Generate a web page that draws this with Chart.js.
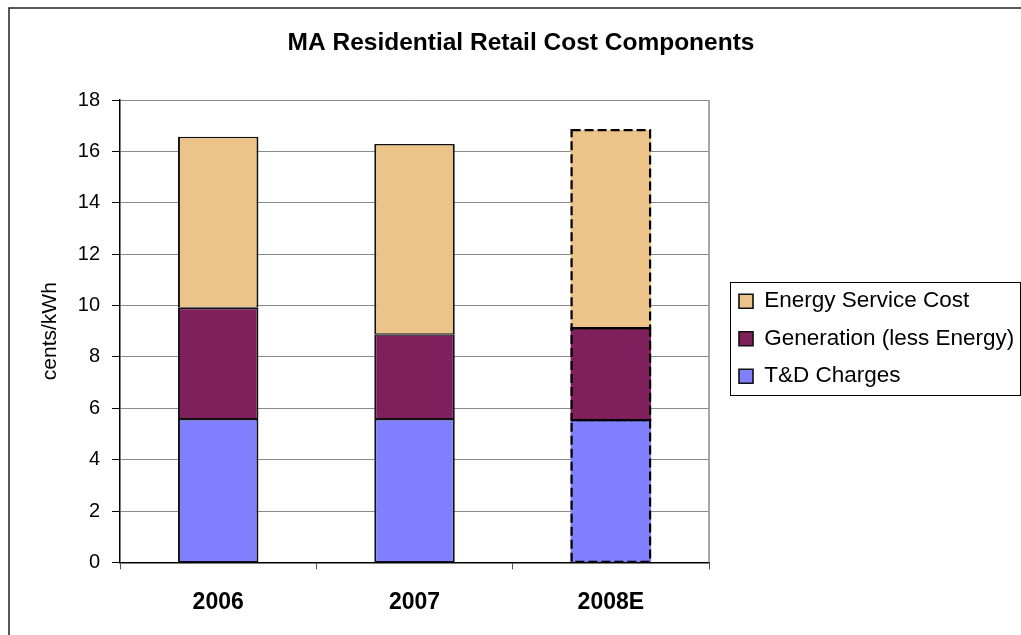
<!DOCTYPE html>
<html>
<head>
<meta charset="utf-8">
<title>MA Residential Retail Cost Components</title>
<script src="https://cdn.jsdelivr.net/npm/chart.js@4/dist/chart.umd.min.js"></script>
<style>
  html, body { margin: 0; padding: 0; background: #fff; }
  #wrap { width: 1021px; height: 635px; position: relative; }
</style>
</head>
<body>
<div id="wrap"><canvas id="chart" width="1021" height="635"></canvas></div>
<script>
// Retail cost components, cents per kWh
const years = ['2006', '2007', '2008E'];
const tdCharges = [5.58, 5.58, 5.54];
const generationLessEnergy = [4.33, 3.30, 3.58];
const energyServiceCost = [6.66, 7.41, 7.71];
const seriesNames = ['T&D Charges', 'Generation (less Energy)', 'Energy Service Cost'];
const yAxisMin = 0;
const yAxisMax = 18;
const yAxisStep = 2;
const estimatedYear = '2008E';   // estimate, drawn with a dashed outline

const FONT = "'Liberation Sans', Arial, Helvetica, sans-serif";
Chart.defaults.font.family = FONT;
Chart.defaults.color = '#000';

const PAD = { left: 21, right: 312, top: 0, bottom: 0 };

const estIdx = years.indexOf(estimatedYear);
const solidBorder = { top: 1.5, bottom: 1, left: 2, right: 2 };
const borderFor = (ctx) => (ctx.dataIndex === estIdx ? 0 : solidBorder);

// Outer frame of the chart object
const framePlugin = {
  id: 'frame',
  beforeDraw(chart) {
    const ctx = chart.ctx;
    ctx.save();
    ctx.strokeStyle = '#222';
    ctx.lineWidth = 1.5;
    ctx.beginPath();
    ctx.moveTo(9, chart.height + 5);
    ctx.lineTo(9, 8);
    ctx.lineTo(chart.width + 5, 8);
    ctx.stroke();
    ctx.restore();
  }
};

// Right edge of the plot area
const plotEdgePlugin = {
  id: 'plotEdge',
  afterDraw(chart) {
    const { ctx, chartArea } = chart;
    ctx.save();
    ctx.strokeStyle = '#8a8a8a';
    ctx.lineWidth = 1.5;
    ctx.beginPath();
    ctx.moveTo(chartArea.right, chartArea.top);
    ctx.lineTo(chartArea.right, chartArea.bottom);
    ctx.stroke();
    ctx.restore();
  }
};

// Dashed outline around every segment of the estimated year
const estimateOutlinePlugin = {
  id: 'estimateOutline',
  afterDatasetsDraw(chart) {
    const ctx = chart.ctx;
    ctx.save();
    ctx.strokeStyle = '#000';
    ctx.lineWidth = 2.2;
    ctx.setLineDash([9, 4]);
    chart.data.datasets.forEach((ds, di) => {
      const bar = chart.getDatasetMeta(di).data[estIdx];
      if (!bar) return;
      const { x, y, base, width } = bar.getProps(['x', 'y', 'base', 'width'], true);
      const left = x - width / 2 + 1, right = x + width / 2 - 1;
      const top = Math.min(y, base), bottom = Math.max(y, base);
      ctx.strokeRect(left, top, right - left, bottom - top);
    });
    ctx.restore();
  }
};

// Title centred across the frame; legend placed right of the plot, near its middle
const placementPlugin = {
  id: 'placement',
  afterLayout(chart) {
    const t = chart.titleBlock;
    if (t) { t.left = PAD.left; t.right = chart.width; }
    const lg = chart.legend;
    const area = chart.chartArea;
    if (!lg || !lg.columnSizes || !lg.columnSizes.length) return;
    const pad = lg.options.labels.padding;
    const colH = lg.columnSizes[0].height;
    const firstTop = (lg.top + pad + lg.bottom - colH) / 2;
    const dy = (area.top + 190) - firstTop;
    lg.top += dy; lg.bottom += dy;
    const dx = (area.right + 30) - (lg.left + pad);
    lg.left += dx; lg.right += dx;
  },
  afterDraw(chart) {
    const lg = chart.legend;
    const hb = lg && lg.legendHitBoxes;
    if (!hb || !hb.length) return;
    const first = hb[0], last = hb[hb.length - 1];
    const ctx = chart.ctx;
    const left = Math.round(first.left - 9) + 0.5;
    const top = Math.round(first.top - 8) + 0.5;
    const bottom = Math.round(last.top + last.height + 7.5) + 0.5;
    ctx.save();
    ctx.strokeStyle = '#000';
    ctx.lineWidth = 1;
    ctx.strokeRect(left, top, chart.width - 0.5 - left, bottom - top);
    ctx.restore();
  }
};

new Chart(document.getElementById('chart'), {
  type: 'bar',
  data: {
    labels: years,
    datasets: [
      { label: seriesNames[0], data: tdCharges, backgroundColor: '#8080ff' },
      { label: seriesNames[1], data: generationLessEnergy, backgroundColor: '#7f1f5b' },
      { label: seriesNames[2], data: energyServiceCost, backgroundColor: '#ecc48a' }
    ].map(ds => Object.assign(ds, {
      borderColor: '#111',
      borderWidth: borderFor,
      borderSkipped: false,
      barPercentage: 0.41,
      categoryPercentage: 1
    }))
  },
  options: {
    responsive: false,
    animation: false,
    devicePixelRatio: 1,
    layout: { padding: PAD },
    plugins: {
      title: {
        display: true,
        text: 'MA Residential Retail Cost Components',
        color: '#000',
        font: { family: FONT, size: 24.5, weight: 'bold' },
        padding: { top: 28.3, bottom: 42.3 }
      },
      legend: {
        position: 'chartArea',
        reverse: true,
        labels: {
          boxWidth: 14,
          boxHeight: 14,
          padding: 15,
          color: '#000',
          font: { family: FONT, size: 22.5 }
        }
      },
      tooltip: { enabled: false }
    },
    scales: {
      x: {
        stacked: true,
        grid: {
          display: true,
          drawOnChartArea: false,
          drawTicks: true,
          tickLength: 7,
          tickColor: '#555',
          offset: true
        },
        border: { display: true, color: '#000', width: 1.5 },
        ticks: {
          color: '#000',
          padding: 19,
          font: { family: FONT, size: 23, weight: 'bold' }
        }
      },
      y: {
        stacked: true,
        min: yAxisMin,
        max: yAxisMax,
        ticks: {
          stepSize: yAxisStep,
          color: '#000',
          padding: 12,
          font: { family: FONT, size: 20 }
        },
        grid: {
          color: '#8a8a8a',
          lineWidth: 1,
          tickLength: 8,
          tickColor: '#000'
        },
        border: { display: true, color: '#000', width: 1.5 },
        title: {
          display: true,
          text: 'cents/kWh',
          color: '#000',
          font: { family: FONT, size: 21 },
          padding: { top: 16.4, bottom: 3.2 }
        }
      }
    }
  },
  plugins: [framePlugin, plotEdgePlugin, estimateOutlinePlugin, placementPlugin]
});
</script>
</body>
</html>
